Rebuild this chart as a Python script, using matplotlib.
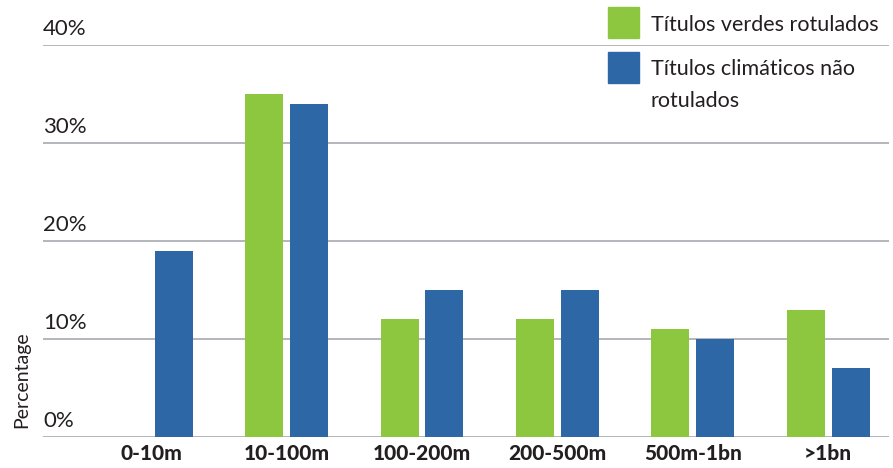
import matplotlib
matplotlib.use("Agg")
import matplotlib.pyplot as plt
from matplotlib.patches import Rectangle
import numpy as np

plt.rcParams['font.family'] = ['Lato', 'DejaVu Sans']

categories = ["0-10m", "10-100m", "100-200m", "200-500m", "500m-1bn", ">1bn"]
green_labelled = [0, 35, 12, 12, 11, 13]
climate_unlabelled = [19, 34, 15, 15, 10, 7]
series_names = ["Títulos verdes rotulados", "Títulos climáticos não\nrotulados"]
y_ticks = [0, 10, 20, 30, 40]
y_tick_labels = ["0%", "10%", "20%", "30%", "40%"]

GREEN = "#8DC63F"
BLUE = "#2E67A5"
TEXT = "#231F20"
GRID = "#B4B4BC"

fig = plt.figure(figsize=(8.93, 4.68), dpi=100)
W, H = 893, 468
ax = fig.add_axes([43 / W, 1 - 437 / H, (889 - 43) / W, (437 - 45) / H])

x = np.arange(len(categories))
width = 0.281
off = 0.166
ax.bar(x - off, green_labelled, width, color=GREEN, zorder=3)
ax.bar(x + off, climate_unlabelled, width, color=BLUE, zorder=3)

ax.set_xlim(-0.80, 5.45)
ax.set_ylim(0, 40)
for v in y_ticks:
    ax.axhline(v, color=GRID, lw=1.4, zorder=1)
for v, lab in zip(y_ticks, y_tick_labels):
    ax.annotate(lab, xy=(0, v), xycoords=('axes fraction', 'data'),
                xytext=(0, 7.5), textcoords='offset points',
                ha='left', va='baseline', fontsize=16, color=TEXT)

ax.set_xticks(x)
ax.set_xticklabels(categories, fontsize=15, fontweight='black', color=TEXT)
ax.tick_params(axis='x', length=0, pad=5)
ax.tick_params(axis='y', length=0, labelleft=False)
for s in ax.spines.values():
    s.set_visible(False)

fig.text(13 / W, 1 - 380 / H, "Percentage", rotation=90, ha='left', va='center',
         fontsize=14, color=TEXT)

# legend: swatch plus one text per line, placed on fixed baselines
LINE_STEP = 32
for (top, base, color, name) in [(7, 31, GREEN, series_names[0]),
                                 (52, 75, BLUE, series_names[1])]:
    fig.patches.append(Rectangle((608 / W, 1 - (top + 31) / H), 31 / W, 31 / H,
                                 transform=fig.transFigure, color=color, zorder=5))
    for i, line in enumerate(name.split("\n")):
        fig.text(651 / W, 1 - (base + i * LINE_STEP) / H, line, ha='left',
                 va='baseline', fontsize=15.5, color=TEXT)

fig.savefig("out.png", dpi=100)
